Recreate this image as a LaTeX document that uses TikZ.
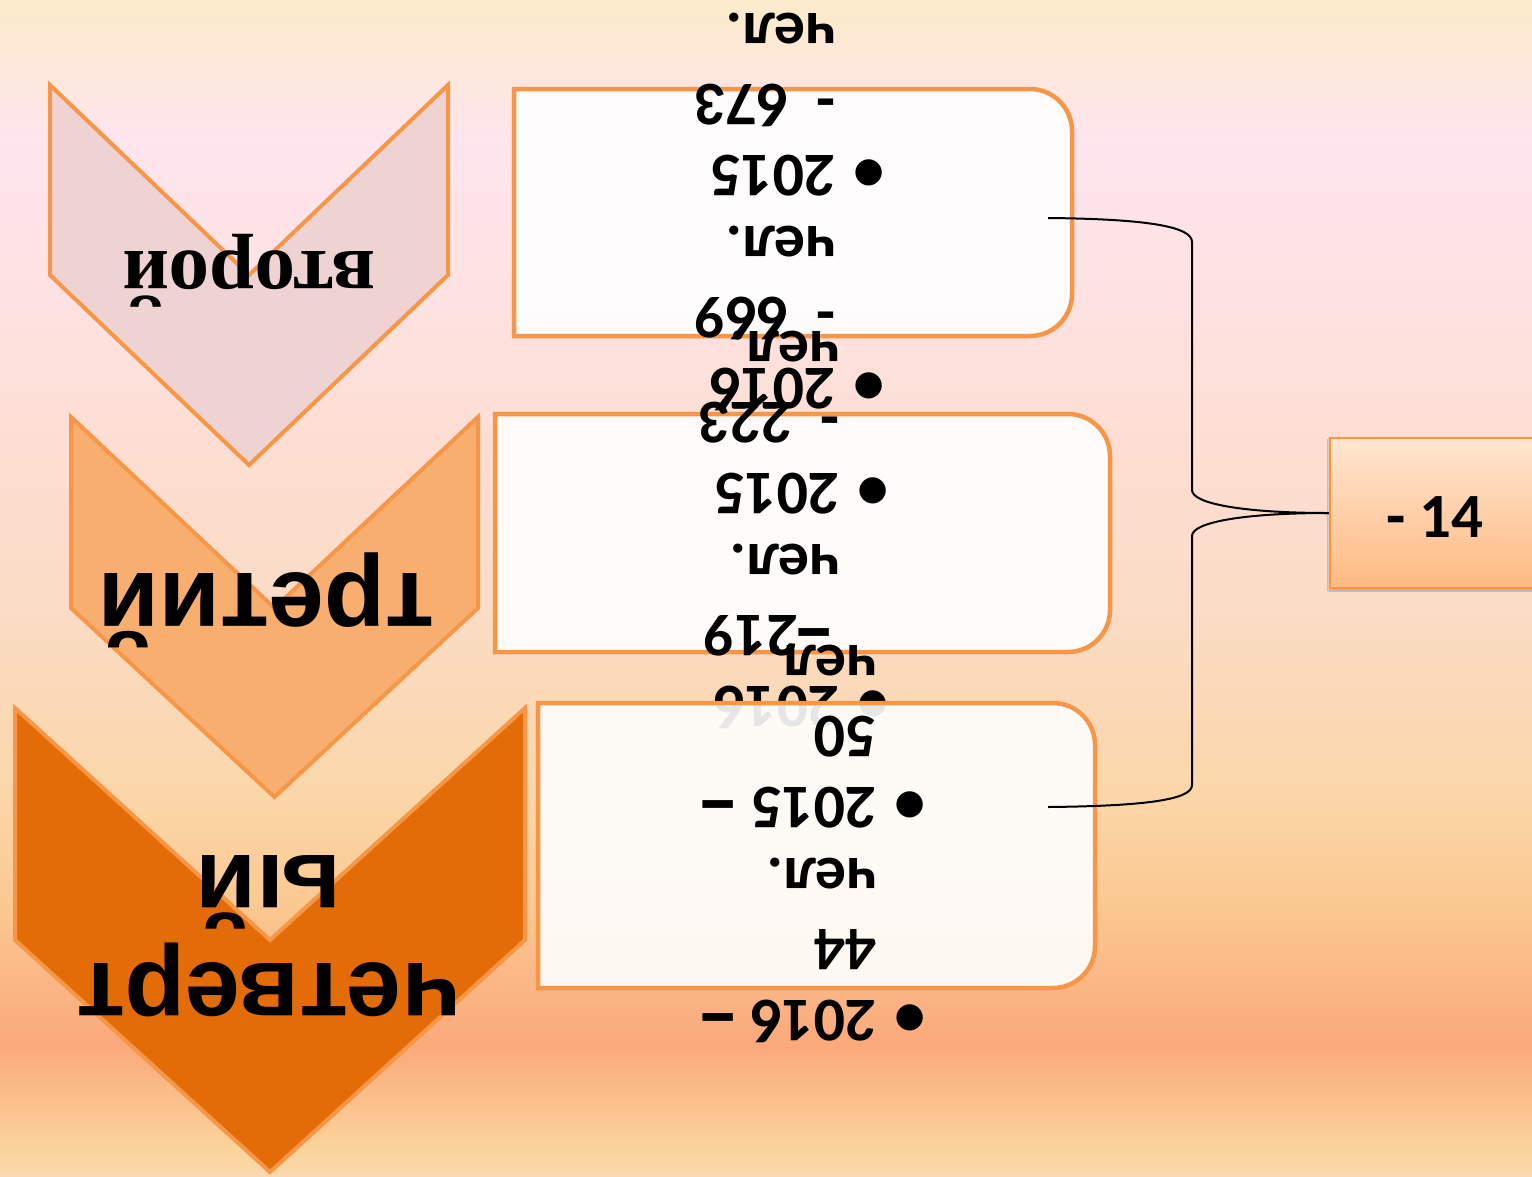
\documentclass[tikz,border=0pt]{standalone}
\usepackage{fontspec}
\usepackage{graphicx}
\usetikzlibrary{shadows.blur}
\newfontfamily\carl{Carlito}
\newfontfamily\lsans{Liberation Sans}
\newfontfamily\lserif{Liberation Serif}
\newfontfamily\djv{DejaVu Sans}
\definecolor{orln}{HTML}{F79646}
\definecolor{chA}{HTML}{EFD3D3}
\definecolor{chB}{HTML}{F8AE6E}
\definecolor{chC}{HTML}{E36C09}
\definecolor{rtop}{HTML}{FFE6D0}
\definecolor{rbot}{HTML}{FFBA82}
\definecolor{bgA}{HTML}{FCEBCA}
\definecolor{bgB}{HTML}{FDE8DA}
\definecolor{bgC}{HTML}{FEE5EE}
\definecolor{bgD}{HTML}{FEE2E2}
\definecolor{bgE}{HTML}{FDDED2}
\definecolor{bgF}{HTML}{FBDCC6}
\definecolor{bgG}{HTML}{FBD6A8}
\definecolor{bgH}{HTML}{FBC992}
\definecolor{bgI}{HTML}{FAA97B}
\definecolor{bgJ}{HTML}{FBD49C}
\definecolor{bgK}{HTML}{FBD8AE}
\newcommand\yrbul{\makebox[48.5pt][l]{•}}
\newcommand\yrdash{\scalebox{1.25}[1]{{\djv\bfseries –}}}
\newcommand\rboxpath[1]{%
  \path[boxline] (#1.south west) -- (#1.north west) -- ([xshift=-42pt]#1.north east)
    arc[start angle=-90,end angle=0,radius=42] -- ([yshift=42pt]#1.south east)
    arc[start angle=0,end angle=90,radius=42] -- cycle;}
\begin{document}
\begin{tikzpicture}[x=1pt,y=-1pt,
  chev/.style={draw=orln, line width=4pt, line join=miter},
  boxline/.style={draw=orln, line width=4.5pt, fill=white, fill opacity=0.9},
  boxbase/.style={rectangle, inner sep=0pt, outer sep=0pt},
  yeartext/.style={rotate=180, anchor=base west, inner sep=0pt,
    font=\carl\bfseries\fontsize{62}{71}\selectfont},
  chevtext/.style={rotate=180, anchor=base, inner sep=0pt},
  brace/.style={draw=black, line width=2pt},
  rbox/.style={draw=orln, line width=2.5pt, top color=rtop, bottom color=rbot,
    minimum width=210pt, minimum height=150pt, inner sep=0pt,
    font=\carl\bfseries\fontsize{63}{71}\selectfont, text height=49pt, text depth=0pt,
    blur shadow={shadow blur steps=6, shadow xshift=-1pt, shadow yshift=-2pt, shadow opacity=30}}
]
\useasboundingbox (0,0) rectangle (1532,1176);
\clip (0,0) rectangle (1532,1176);
% background
\shade[top color=bgA,bottom color=bgB] (0,0) rectangle (1532,60.5);
\shade[top color=bgB,bottom color=bgC] (0,60) rectangle (1532,140.5);
\shade[top color=bgC,bottom color=bgD] (0,140) rectangle (1532,300.5);
\shade[top color=bgD,bottom color=bgE] (0,300) rectangle (1532,450.5);
\shade[top color=bgE,bottom color=bgF] (0,450) rectangle (1532,600.5);
\shade[top color=bgF,bottom color=bgG] (0,600) rectangle (1532,800.5);
\shade[top color=bgG,bottom color=bgH] (0,800) rectangle (1532,900.5);
\shade[top color=bgH,bottom color=bgI] (0,900) rectangle (1532,1045.5);
\shade[top color=bgI,bottom color=bgJ] (0,1045) rectangle (1532,1150.5);
\shade[top color=bgJ,bottom color=bgK] (0,1150) rectangle (1532,1176);
% chevrons
\path[chev, fill=chA] (50,85) -- (249,275) -- (448,85) -- (448,275) -- (249,465) -- (50,275) -- cycle;
\path[chev, fill=chB] (71,417) -- (274.5,608) -- (478,417) -- (478,608) -- (274.5,797) -- (71,608) -- cycle;
\path[chev, fill=chC] (15,708) -- (270,940) -- (525,708) -- (525,940) -- (270,1172) -- (15,940) -- cycle;
\node[chevtext, font=\lserif\bfseries\fontsize{81}{90}\selectfont] (ch1t) at (249,251) {второй};
\node[chevtext, font=\lsans\bfseries\fontsize{100}{108}\selectfont] (ch2t) at (266,573) {третий};
\node[chevtext, font=\lsans\bfseries\fontsize{99}{108}\selectfont] (ch3t) at (268.5,963)
  {\begin{tabular}[t]{@{}c@{}}четверт\\ый\end{tabular}};
% box 1
\node[boxbase, minimum width=558pt, minimum height=247pt] (b1) at (793,212.5) {};
\rboxpath{b1}
\node[yeartext] (t1) at (884.5,368) {\begin{tabular}[t]{@{}l@{}l@{}}
  \yrbul & 2016\\ & -\hspace{28pt}669\\ & чел.\\
  \yrbul & 2015\\ & -\hspace{28pt}673\\ & чел.\end{tabular}};
% box 2
\node[boxbase, minimum width=615pt, minimum height=238pt] (b2) at (802.5,533) {};
\rboxpath{b2}
\node[yeartext] (t2) at (888.5,686) {\begin{tabular}[t]{@{}l@{}l@{}}
  \yrbul & 2016\\ & \hspace{6pt}\yrdash\hspace{-3pt}219\\ & чел.\\
  \yrbul & 2015\\ & -\hspace{28pt}223\\ & чел.\end{tabular}};
% box 3
\node[boxbase, minimum width=557pt, minimum height=285pt] (b3) at (816.5,845.5) {};
\rboxpath{b3}
\node[yeartext] (t3) at (925.5,1000) {\begin{tabular}[t]{@{}l@{}l@{}}
  \yrbul & 2016 \yrdash\\ & 44\\ & чел.\\
  \yrbul & 2015 \yrdash\\ & 50\\ & чел.\end{tabular}};
% right box
\node[rbox] (r) at (1435,513) {- 14};
% brace
\coordinate (c1) at (1048,218);
\coordinate (c3) at (1048,807);
\draw[brace] (c1) .. controls (1150,219) and (1192,227) .. (1192,242) -- (1192,490)
  .. controls (1192,504) and (1245,513) .. (r.west);
\draw[brace] (r.west) .. controls (1245,513) and (1192,522) .. (1192,536) -- (1192,785)
  .. controls (1192,799) and (1150,806) .. (c3);
\end{tikzpicture}
\end{document}
